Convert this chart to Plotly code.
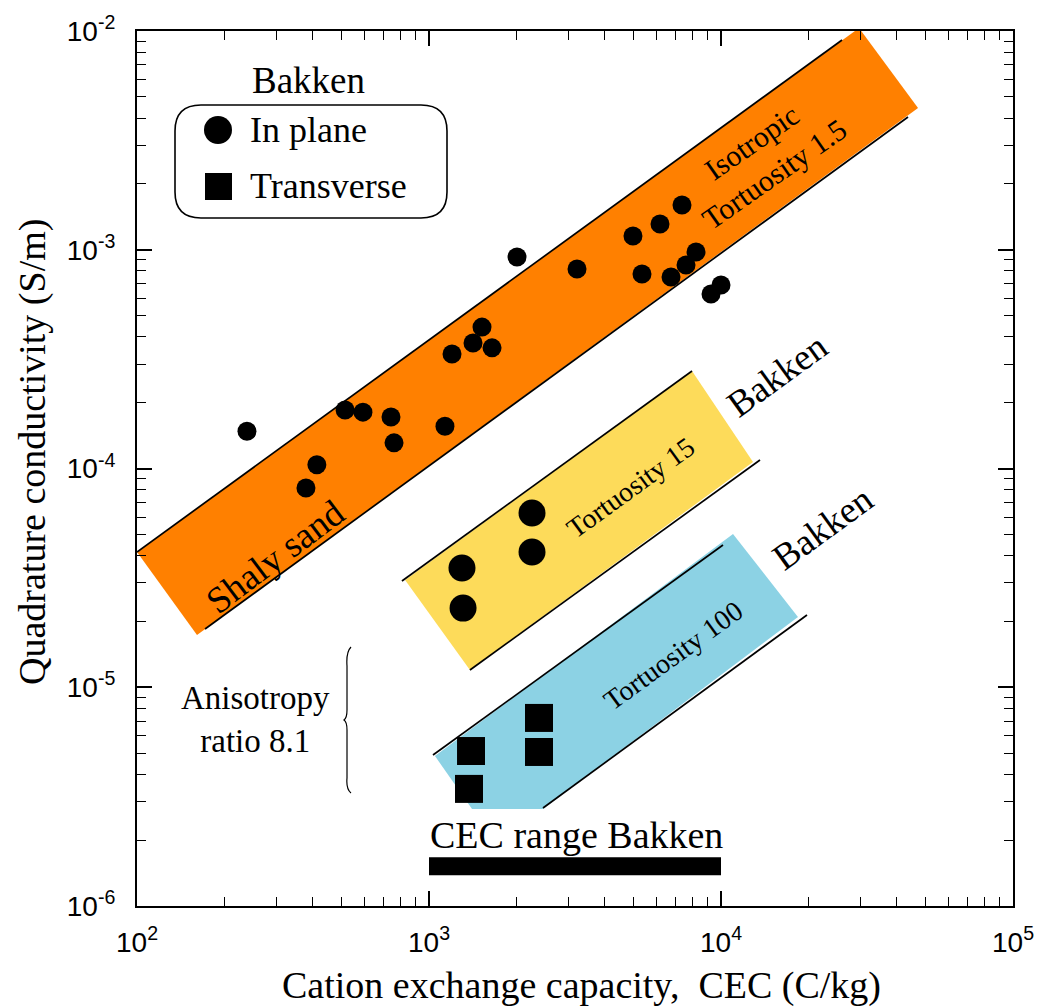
import plotly.graph_objects as go

# ---------------- data ----------------
# In-plane quadrature conductivity vs CEC (shaly sand band)
cec_inplane = [238, 379, 413, 516, 594, 741, 759, 1134, 1199, 1415, 1519, 1644,
               2002, 3213, 4995, 5363, 6182, 6743, 7352, 7590, 8212, 9243, 10000]
sigma_inplane = [1.48e-4, 8.15e-5, 1.04e-4, 1.85e-4, 1.81e-4, 1.72e-4, 1.31e-4,
                 1.56e-4, 3.34e-4, 3.75e-4, 4.43e-4, 3.56e-4, 9.27e-4, 8.17e-4,
                 1.156e-3, 7.75e-4, 1.311e-3, 7.5e-4, 1.602e-3, 8.52e-4, 9.77e-4,
                 6.28e-4, 6.9e-4]

# Bakken samples: in plane and transverse
cec_bakken_inplane = [1297, 1308, 2253, 2253]
sigma_bakken_inplane = [3.51e-5, 2.30e-5, 6.26e-5, 4.15e-5]
cec_transverse = [1393, 1371, 2381, 2381]
sigma_transverse = [5.11e-6, 3.43e-6, 7.24e-6, 5.06e-6]

# Tortuosity bands (outline of the shaded area and its two bounding lines)
orange_fill_cec = [100, 29700, 47290, 160.5]
orange_fill_sigma = [4.152e-5, 1.032e-2, 4.446e-3, 1.733e-5]
orange_upper_cec = [100, 25970]
orange_upper_sigma = [4.152e-5, 9.10e-3]
orange_lower_cec = [171, 43700]
orange_lower_sigma = [1.846e-5, 4.045e-3]

yellow_fill_cec = [828, 7957, 12872, 1381]
yellow_fill_sigma = [3.093e-5, 2.791e-4, 1.071e-4, 1.199e-5]
yellow_upper_cec = [808, 7957]
yellow_upper_sigma = [3.06e-5, 2.791e-4]
yellow_lower_cec = [1381, 13600]
yellow_lower_sigma = [1.199e-5, 1.094e-4]

blue_fill_cec = [1048, 10993, 18350, 2457, 1404]
blue_fill_sigma = [4.85e-6, 5.02e-5, 2.095e-5, 2.776e-6, 2.776e-6]
blue_upper_cec = [1032, 10158]
blue_upper_sigma = [4.90e-6, 4.47e-5]
blue_lower_cec = [2457, 19700]
blue_lower_sigma = [2.805e-6, 2.14e-5]

# CEC range of the Bakken samples
cec_range = [1000, 10000]
cec_range_level = [1.52e-6, 1.52e-6]

x_ticks = [1e2, 1e3, 1e4, 1e5]
x_ticktext = ["10<sup>2</sup>", "10<sup>3</sup>", "10<sup>4</sup>", "10<sup>5</sup>"]
y_ticks = [1e-6, 1e-5, 1e-4, 1e-3, 1e-2]
y_ticktext = ["10<sup>-6</sup>", "10<sup>-5</sup>", "10<sup>-4</sup>",
              "10<sup>-3</sup>", "10<sup>-2</sup>"]

ORANGE = "#FF8000"
YELLOW = "#FDDB5A"
BLUE = "#8CD2E4"
SERIF = "Liberation Serif"
SANS = "Liberation Sans"

# ---------------- layout geometry ----------------
W, H = 1037, 1008
L, R, T, B = 137, 24, 31, 102
PW, PH = W - L - R, H - T - B


def fx(px):
    return (px - L) / PW


def fy(py):
    return (H - B - py) / PH


fig = go.Figure()


def band(cx, cy, color):
    fig.add_trace(go.Scatter(x=cx, y=cy, fill="toself", fillcolor=color,
                             mode="none", hoverinfo="skip", showlegend=False))


def edge(cx, cy):
    fig.add_trace(go.Scatter(x=cx, y=cy, mode="lines",
                             line=dict(color="black", width=1.7),
                             hoverinfo="skip", showlegend=False))


band(orange_fill_cec, orange_fill_sigma, ORANGE)
band(yellow_fill_cec, yellow_fill_sigma, YELLOW)
band(blue_fill_cec, blue_fill_sigma, BLUE)
edge(orange_upper_cec, orange_upper_sigma)
edge(orange_lower_cec, orange_lower_sigma)
edge(yellow_upper_cec, yellow_upper_sigma)
edge(yellow_lower_cec, yellow_lower_sigma)
edge(blue_upper_cec, blue_upper_sigma)
edge(blue_lower_cec, blue_lower_sigma)

fig.add_trace(go.Scatter(x=cec_range, y=cec_range_level, mode="lines",
                         line=dict(color="black", width=18),
                         hoverinfo="skip", showlegend=False))

fig.add_trace(go.Scatter(x=cec_inplane, y=sigma_inplane, mode="markers",
                         marker=dict(symbol="circle", size=19, color="black"),
                         name="In plane", showlegend=False))
fig.add_trace(go.Scatter(x=cec_bakken_inplane, y=sigma_bakken_inplane, mode="markers",
                         marker=dict(symbol="circle", size=27, color="black"),
                         name="In plane", showlegend=False))
fig.add_trace(go.Scatter(x=cec_transverse, y=sigma_transverse, mode="markers",
                         marker=dict(symbol="square", size=28, color="black"),
                         name="Transverse", showlegend=False))

shapes = []

# rounded legend frame
x0, x1, y0, y1, r = 175, 447, 105, 218, 26
pts = [("M", x0 + r, y0), ("L", x1 - r, y0), ("Q", x1, y0, x1, y0 + r),
       ("L", x1, y1 - r), ("Q", x1, y1, x1 - r, y1), ("L", x0 + r, y1),
       ("Q", x0, y1, x0, y1 - r), ("L", x0, y0 + r), ("Q", x0, y0, x0 + r, y0)]


def to_path(items):
    out = []
    for it in items:
        cmd, coords = it[0], it[1:]
        pairs = []
        for i in range(0, len(coords), 2):
            pairs.append(f"{fx(coords[i]):.5f},{fy(coords[i + 1]):.5f}")
        out.append(cmd + " " + " ".join(pairs))
    return " ".join(out)


shapes.append(dict(type="path", xref="paper", yref="paper", path=to_path(pts) + " Z",
                   line=dict(color="black", width=1.6), fillcolor="white", layer="above"))
# legend symbols
shapes.append(dict(type="circle", xref="paper", yref="paper",
                   x0=fx(204), x1=fx(232), y0=fy(144), y1=fy(116),
                   fillcolor="black", line=dict(width=0), layer="above"))
shapes.append(dict(type="rect", xref="paper", yref="paper",
                   x0=fx(205), x1=fx(232), y0=fy(200), y1=fy(173),
                   fillcolor="black", line=dict(width=0), layer="above"))

# brace beside the anisotropy note
brace = [("M", 351, 647), ("Q", 346, 652, 347, 666), ("L", 347, 710),
         ("Q", 347, 718, 344, 720), ("Q", 347, 722, 347, 730), ("L", 347, 778),
         ("Q", 346, 789, 351, 793)]
shapes.append(dict(type="path", xref="paper", yref="paper", path=to_path(brace),
                   line=dict(color="black", width=1.2)))

annotations = []


def note(text, px, py, size, angle=0, font=SERIF, xanchor="center"):
    annotations.append(dict(text=text, x=fx(px), y=fy(py), xref="paper", yref="paper",
                            showarrow=False, textangle=angle, xanchor=xanchor,
                            yanchor="middle",
                            font=dict(family=font, size=size, color="black")))


note("Bakken", 308, 80, 37)
note("In plane", 248, 130, 36, xanchor="left")
note("Transverse", 248, 186, 36, xanchor="left")
note("Shaly sand", 275, 556, 37, angle=-37)
note("Isotropic<br>Tortuosity 1.5", 763, 158, 30, angle=-35)
note("Bakken", 777, 376, 37, angle=-36)
note("Tortuosity 15", 631, 488, 28, angle=-36)
note("Bakken", 822, 528, 37, angle=-36)
note("Tortuosity 100", 673, 655, 28, angle=-36)
note("Anisotropy<br>ratio 8.1", 255, 719, 33)
note("CEC range Bakken", 576, 835, 38)
note("Cation exchange capacity,  CEC (C/kg)", 581, 985, 38)
note("Quadrature conductivity (S/m)", 33, 452, 38, angle=-90)

minor_x = [k * 10 ** e for e in range(2, 5) for k in range(2, 10)]
minor_y = [k * 10.0 ** e for e in range(-6, -2) for k in range(2, 10)]

axis_common = dict(type="log", showgrid=False, zeroline=False, showline=True,
                   linecolor="black", linewidth=2, mirror="allticks",
                   ticks="inside", ticklen=15, tickwidth=1.6, tickcolor="black",
                   tickmode="array", automargin=False,
                   tickfont=dict(family=SANS, size=28, color="black"))

fig.update_xaxes(range=[2, 5], tickvals=x_ticks, ticktext=x_ticktext,
                 ticklabelstandoff=10,
                 minor=dict(tickmode="array", tickvals=minor_x, ticks="inside",
                            ticklen=9, tickwidth=1.4, tickcolor="black", showgrid=False),
                 **axis_common)
fig.update_yaxes(range=[-6, -2], tickvals=y_ticks, ticktext=y_ticktext,
                 ticklabelstandoff=14,
                 minor=dict(tickmode="array", tickvals=minor_y, ticks="inside",
                            ticklen=9, tickwidth=1.4, tickcolor="black", showgrid=False),
                 **axis_common)

fig.update_layout(width=W, height=H, margin=dict(l=L, r=R, t=T, b=B),
                  paper_bgcolor="white", plot_bgcolor="white",
                  shapes=shapes, annotations=annotations, showlegend=False)

fig.write_html("out.html")
